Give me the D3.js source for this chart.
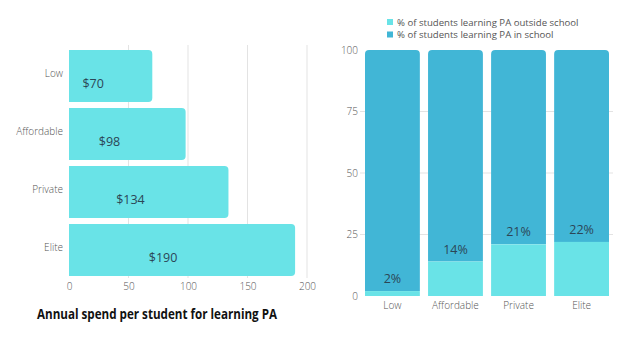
<!DOCTYPE html>
<html>
<head>
<meta charset="utf-8">
<script src="https://cdn.jsdelivr.net/npm/d3@7"></script>
<style>
  html, body { margin: 0; padding: 0; background: #fff; }
  svg { display: block; font-family: "Open Sans", sans-serif; }
</style>
</head>
<body>
<svg id="chart" width="620" height="345"></svg>
<script>
// School segments
const segments = ["Low", "Affordable", "Private", "Elite"];

// Annual spend per student (USD)
const spend = [70, 98, 134, 190];
const spendTicks = [0, 50, 100, 150, 200];

// Share of students learning PA outside school (%), remainder in school
const outsidePct = [2, 14, 21, 22];
const pctTicks = [0, 25, 50, 75, 100];

const legendLabels = [
  "% of students learning PA outside school",
  "% of students learning PA in school"
];

const cyan = "#69e3e7";
const blue = "#41b6d6";
const gridColor = "#e3e3e3";
const tickColor = "#555";
const valueColor = "#2c4656";
const tickFont = 10;

const svg = d3.select("#chart");

// Rectangle with rounded corners on chosen sides
function roundedRect(x, y, w, h, r, corners) {
  const [tl, tr, br, bl] = corners.map(c => c ? r : 0);
  return `M${x + tl},${y}H${x + w - tr}` +
    (tr ? `A${tr},${tr} 0 0 1 ${x + w},${y + tr}` : "") +
    `V${y + h - br}` +
    (br ? `A${br},${br} 0 0 1 ${x + w - br},${y + h}` : "") +
    `H${x + bl}` +
    (bl ? `A${bl},${bl} 0 0 1 ${x},${y + h - bl}` : "") +
    `V${y + tl}` +
    (tl ? `A${tl},${tl} 0 0 1 ${x + tl},${y}` : "") + "Z";
}

function styleTicks(g) {
  g.select(".domain").remove();
  g.selectAll("text")
    .attr("font-family", "Open Sans")
    .attr("font-size", tickFont)
    .attr("font-weight", 300)
    .attr("fill", tickColor);
}

// ---------- Left: horizontal bars of spend ----------
const xL = d3.scaleLinear().domain([0, 200]).range([69, 307]);
const yL = d3.scaleBand().domain(segments).range([47, 279])
  .paddingInner(0.1).paddingOuter(0.05);

const left = svg.append("g");

left.append("g").selectAll("line").data(spendTicks.slice(1)).join("line")
  .attr("x1", d => xL(d)).attr("x2", d => xL(d))
  .attr("y1", 45).attr("y2", 278)
  .attr("stroke", gridColor).attr("stroke-width", 1);

left.append("g").selectAll("path").data(segments).join("path")
  .attr("d", (d, i) => roundedRect(xL(0), yL(d), xL(spend[i]) - xL(0), yL.bandwidth(), 4,
    [false, true, true, false]))
  .attr("fill", cyan);

left.append("g").selectAll("text").data(segments).join("text")
  .attr("x", (d, i) => xL(spend[i] * 0.49 - 14))
  .attr("y", d => yL(d) + yL.bandwidth() / 2 + 12)
  .attr("text-anchor", "middle")
  .attr("font-size", 12.5)
  .attr("fill", valueColor)
  .text((d, i) => "$" + spend[i]);

// category axis (no line, no ticks)
left.append("g")
  .attr("transform", `translate(${xL(0) - 6},0)`)
  .call(d3.axisLeft(yL).tickSize(0).tickPadding(0))
  .call(styleTicks)
  .selectAll("text").attr("dy", "0.1em");

left.append("g")
  .attr("transform", "translate(0,279)")
  .call(d3.axisBottom(xL).tickValues(spendTicks).tickSize(0).tickPadding(4))
  .call(styleTicks);

left.append("text")
  .attr("x", 37).attr("y", 319)
  .attr("font-family", "Open Sans").attr("font-weight", 700)
  .attr("font-size", 13.5).attr("fill", "#111")
  .attr("textLength", 240).attr("lengthAdjust", "spacingAndGlyphs")
  .text("Annual spend per student for learning PA");

// ---------- Right: stacked 100% columns ----------
const xR = d3.scaleBand().domain(segments).range([365, 609])
  .paddingInner(0.13).paddingOuter(0);
const yR = d3.scaleLinear().domain([0, 100]).range([296, 50]);

const right = svg.append("g");

right.append("g").selectAll("line").data(pctTicks.slice(1, 4)).join("line")
  .attr("x1", 360).attr("x2", 613)
  .attr("y1", d => yR(d)).attr("y2", d => yR(d))
  .attr("stroke", gridColor).attr("stroke-width", 1);

// in-school part (top, rounded)
right.append("g").selectAll("path").data(segments).join("path")
  .attr("d", (d, i) => roundedRect(xR(d), yR(100), xR.bandwidth(),
    yR(outsidePct[i]) - yR(100), 4, [true, true, false, false]))
  .attr("fill", blue);

// outside-school part (bottom)
right.append("g").selectAll("rect").data(segments).join("rect")
  .attr("x", d => xR(d)).attr("width", xR.bandwidth())
  .attr("y", (d, i) => yR(outsidePct[i]))
  .attr("height", (d, i) => yR(0) - yR(outsidePct[i]))
  .attr("fill", cyan);

right.append("g").selectAll("text").data(segments).join("text")
  .attr("x", d => xR(d) + xR.bandwidth() / 2)
  .attr("y", (d, i) => yR(outsidePct[i]) - 8)
  .attr("text-anchor", "middle")
  .attr("font-size", 12.5)
  .attr("fill", valueColor)
  .text((d, i) => outsidePct[i] + "%");

right.append("g")
  .attr("transform", "translate(358,0)")
  .call(d3.axisLeft(yR).tickValues(pctTicks).tickSize(0).tickPadding(0))
  .call(styleTicks);

right.append("g")
  .attr("transform", "translate(0,296)")
  .call(d3.axisBottom(xR).tickSize(0).tickPadding(6))
  .call(styleTicks);

// legend
const legend = right.append("g").attr("transform", "translate(387,17)");
const legItems = legend.selectAll("g").data(legendLabels).join("g")
  .attr("transform", (d, i) => `translate(0,${i * 12.5})`);
legItems.append("rect").attr("width", 6).attr("height", 6).attr("y", 2)
  .attr("fill", (d, i) => i === 0 ? cyan : blue);
legItems.append("text").attr("x", 10).attr("y", 8.5)
  .attr("font-size", 9.6).attr("fill", "#555")
  .text(d => d);
</script>
</body>
</html>
